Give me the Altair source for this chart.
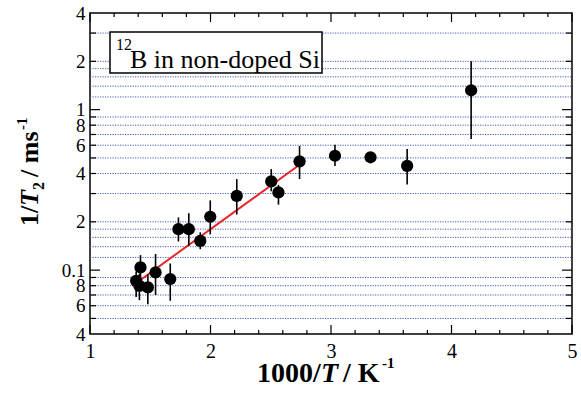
import altair as alt
import pandas as pd

# ---- data ----
x_inv_T = [1.383, 1.419, 1.41, 1.48, 1.544, 1.666, 1.734, 1.82, 1.915, 1.998,
           2.218, 2.504, 2.564, 2.739, 3.033, 3.328, 3.632, 4.163]
y_rate = [0.0858, 0.104, 0.0798, 0.078, 0.0967, 0.088, 0.180, 0.180, 0.152, 0.215,
          0.290, 0.357, 0.305, 0.476, 0.516, 0.505, 0.446, 1.32]
y_lo = [0.068, 0.088, 0.065, 0.0614, 0.0699, 0.0644, 0.151, 0.142, 0.135, 0.167,
        0.222, 0.31, 0.256, 0.369, 0.445, 0.49, 0.341, 0.656]
y_hi = [0.098, 0.124, 0.095, 0.094, 0.126, 0.11, 0.213, 0.226, 0.172, 0.272,
        0.369, 0.426, 0.34, 0.594, 0.605, 0.52, 0.568, 2.0]

fit_x = [1.378, 2.739]
fit_y = [0.0826, 0.4536]

grid_y = [0.05, 0.06, 0.07, 0.08, 0.09, 0.12, 0.14, 0.16, 0.18, 0.2, 0.3,
          0.4, 0.5, 0.6, 0.7, 0.8, 0.9, 1.2, 1.4, 1.6, 1.8, 2, 3]
y_major_ticks = [0.1, 1]
y_minor_ticks = [0.05, 0.06, 0.07, 0.08, 0.09, 0.2, 0.3, 0.4, 0.5, 0.6, 0.7,
                 0.8, 0.9, 2, 3]
x_major_ticks = [1, 2, 3, 4, 5]
x_minor_ticks = [1.2, 1.4, 1.6, 1.8, 2.2, 2.4, 2.6, 2.8, 3.2, 3.4, 3.6, 3.8,
                 4.2, 4.4, 4.6, 4.8]
y_label_values = [0.04, 0.06, 0.08, 0.1, 0.2, 0.4, 0.6, 0.8, 1, 2, 4]
y_label_texts = ["4", "6", "8", "0.1", "2", "4", "6", "8", "1", "2", "4"]
x_label_values = [1, 2, 3, 4, 5]

W, H = 482, 321
SERIF = "Liberation Serif"
GRID_COLOR = "#4658bd"
NB = "\u00a0"

xs = alt.Scale(domain=[1, 5], nice=False, zero=False)
ys = alt.Scale(type="log", domain=[0.04, 4], nice=False)

y_expr = " : ".join(f"datum.value == {v} ? '{t}'" for v, t in zip(y_label_values, y_label_texts)) + " : ''"

x_axis = alt.Axis(values=x_label_values, format="d", ticks=False, domain=False,
                  grid=False, labelFont="Times New Roman", labelFontSize=20, labelColor="black",
                  labelPadding=7, labelFlush=False, labelOverlap=False, title=None)
y_axis = alt.Axis(values=y_label_values, labelExpr=y_expr, ticks=False,
                  domain=False, grid=False, labelFont="Times New Roman", labelFontSize=19,
                  labelColor="black", labelPadding=5, labelFlush=False,
                  labelOverlap=False, title=None)


def X(field):
    return alt.X(field, scale=xs, axis=x_axis)


def Y(field):
    return alt.Y(field, scale=ys, axis=y_axis)


one = pd.DataFrame({"a": [0]})

grid = alt.Chart(pd.DataFrame({"v": grid_y})).mark_rule(
    color=GRID_COLOR, strokeWidth=1, strokeDash=[1.2, 1.3]
).encode(y=Y("v:Q"), x=alt.value(0), x2=alt.value(W))

box = alt.Chart(one).mark_rect(fill="white", stroke="black", strokeWidth=1.5).encode(
    x=alt.value(20), x2=alt.value(232), y=alt.value(19), y2=alt.value(60))


def txt(text, x, y, size, weight="normal", style="normal", angle=0, font=SERIF):
    return alt.Chart(one).mark_text(
        text=text, font=font, fontSize=size, fontWeight=weight, fontStyle=style,
        align="left", baseline="alphabetic", angle=angle, color="black"
    ).encode(x=alt.value(x), y=alt.value(y))


legend_txt = [
    txt("12", 26, 37, 16, font="serif"),
    txt("B in non-doped Si", 40, 55, 26),
]

pts = pd.DataFrame({"x": x_inv_T, "y": y_rate, "lo": y_lo, "hi": y_hi})
errbars = alt.Chart(pts).mark_rule(color="black", strokeWidth=1.6).encode(
    x=X("x:Q"), y=Y("lo:Q"), y2="hi:Q")
points = alt.Chart(pts).mark_circle(size=150, color="black", opacity=1).encode(
    x=X("x:Q"), y=Y("y:Q"))

fit = alt.Chart(pd.DataFrame({"x": fit_x, "y": fit_y})).mark_line(
    color="#e8262a", strokeWidth=2).encode(x=X("x:Q"), y=Y("y:Q"))


def yticks(vals, length):
    d = alt.Chart(pd.DataFrame({"v": vals}))
    left = d.mark_rule(color="black", strokeWidth=1.2).encode(
        y=Y("v:Q"), x=alt.value(0), x2=alt.value(length))
    right = d.mark_rule(color="black", strokeWidth=1.2).encode(
        y=Y("v:Q"), x=alt.value(W), x2=alt.value(W - length))
    return [left, right]


def xticks(vals, length):
    d = alt.Chart(pd.DataFrame({"v": vals}))
    bottom = d.mark_rule(color="black", strokeWidth=1.2).encode(
        x=X("v:Q"), y=alt.value(H), y2=alt.value(H - length))
    top = d.mark_rule(color="black", strokeWidth=1.2).encode(
        x=X("v:Q"), y=alt.value(0), y2=alt.value(length))
    return [bottom, top]


ticks = yticks(y_major_ticks, 10) + yticks(y_minor_ticks, 6) + \
    xticks(x_major_ticks, 9) + xticks(x_minor_ticks, 4)

# axis titles (mixed styles)
xt_y = 369
x_title = [
    txt("1000/", 167, xt_y, 28, "bold"),
    txt("T", 231, xt_y, 28, "bold", "italic"),
    txt("/" + NB + "K", 253, xt_y, 28, "bold"),
    txt("-1", 292, xt_y - 14, 15, "bold"),
]
yt_x = -52
y_title = [
    txt("1/", yt_x, 213, 26, "bold", angle=270),
    txt("T", yt_x, 193, 26, "bold", "italic", angle=270),
    txt("2", yt_x + 6, 177, 16, "bold", angle=270),
    txt("/" + NB + "ms", yt_x, 164, 26, "bold", angle=270),
    txt("-1", yt_x - 11, 117, 15, "bold", angle=270),
]

chart = alt.layer(
    grid, box, *legend_txt, fit, errbars, points, *ticks, *x_title, *y_title
).properties(
    width=W, height=H,
    autosize=alt.AutoSizeParams(type="none"),
    padding={"left": 90, "top": 13, "right": 9, "bottom": 62},
).configure_view(stroke="black", strokeWidth=1.5)

chart.save("out.html", embed_options={"renderer": "svg", "actions": False})
